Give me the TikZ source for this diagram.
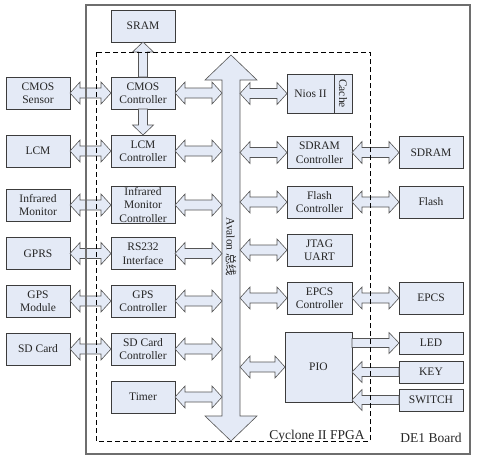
\documentclass[tikz,border=0pt]{standalone}
\usepackage{fontspec}
\setmainfont{Liberation Serif}
\newfontfamily\cjk{Noto Sans CJK SC}
\usetikzlibrary{positioning,calc}

\definecolor{boxfill}{RGB}{228,234,246}
\definecolor{boxline}{RGB}{60,60,60}
\definecolor{arrline}{RGB}{85,85,85}
\definecolor{boardline}{RGB}{110,110,110}

% horizontal hollow double arrow between two anchors
\newcommand{\dblarrow}[2]{%
  \draw[fat] let \p1=(#1), \p2=(#2), \n1={sign(round((\x2-\x1)/10))} in
    (\x1,\y1) -- ({\x1+\n1*10pt},{\y1+11pt}) -- ({\x1+\n1*10pt},{\y1+5pt})
    -- ({\x2-\n1*10pt},{\y1+5pt}) -- ({\x2-\n1*10pt},{\y1+11pt}) -- (\x2,\y1)
    -- ({\x2-\n1*10pt},{\y1-11pt}) -- ({\x2-\n1*10pt},{\y1-5pt})
    -- ({\x1+\n1*10pt},{\y1-5pt}) -- ({\x1+\n1*10pt},{\y1-11pt}) -- cycle;}
% hollow single arrow, head at the second anchor
\newcommand{\onearrow}[2]{%
  \draw[fat] let \p1=(#1), \p2=(#2), \n1={sign(round((\x2-\x1)/10))}, \n2={sign(round((\y2-\y1)/10))} in
    ({\x1-\n2*4.5pt},{\y1+\n1*4.5pt})
    -- ({\x2-\n1*10pt-\n2*4.5pt},{\y2-\n2*10pt+\n1*4.5pt})
    -- ({\x2-\n1*10pt-\n2*10.5pt},{\y2-\n2*10pt+\n1*10.5pt})
    -- (\x2,\y2)
    -- ({\x2-\n1*10pt+\n2*10.5pt},{\y2-\n2*10pt-\n1*10.5pt})
    -- ({\x2-\n1*10pt+\n2*4.5pt},{\y2-\n2*10pt-\n1*4.5pt})
    -- ({\x1+\n2*4.5pt},{\y1-\n1*4.5pt}) -- cycle;}

\begin{document}
\begin{tikzpicture}[
  x=1pt,y=-1pt,
  box/.style={draw=boxline,fill=boxfill,line width=0.7pt,outer sep=0pt,align=center,minimum width=64pt,minimum height=32pt,inner sep=1pt,font=\fontsize{11.5}{13.5}\selectfont,text=black!85},
  fat/.style={draw=arrline,fill=boxfill,line width=0.6pt,line join=miter},
  node distance=41pt
]
\useasboundingbox (0,0) rectangle (477,461);

% left side
\node[box] (sram) at (143,26) {SRAM};
\node[box] (cmoss) at (38,93) {CMOS\\Sensor};
\node[box,right=of cmoss] (cmosc) {CMOS\\Controller};
\node[box] (lcm) at (38,151) {LCM};
\node[box,right=of lcm] (lcmc) {LCM\\Controller};
\node[box] (ir) at (38,205) {Infrared\\Monitor};
\node[box,right=of ir] (irc) {Infrared\\Monitor\\Controller};
\node[box] (gprs) at (38,253.5) {GPRS};
\node[box,right=of gprs] (rs232) {RS232\\Interface};
\node[box] (gps) at (38,301) {GPS\\Module};
\node[box,right=of gps] (gpsc) {GPS\\Controller};
\node[box] (sd) at (38,349) {SD Card};
\node[box,right=of sd] (sdc) {SD Card\\Controller};
\node[box] (timer) at (143,397) {Timer};

% right side
\node[box,minimum width=47pt,minimum height=39pt] (nios) at (310.5,93.5) {Nios II};
\node[box,minimum width=39pt,minimum height=18pt,rotate=-90] (cache) at (343,93.5) {Cache};
\node[box,minimum width=65pt] (sdramc) at (319.5,152.5) {SDRAM\\Controller};
\node[box,right=47pt of sdramc] (sdram) {SDRAM};
\node[box,minimum width=65pt] (flashc) at (319.5,202) {Flash\\Controller};
\node[box,right=47pt of flashc] (flash) {Flash};
\node[box,minimum width=65pt] (jtag) at (319.5,250) {JTAG\\UART};
\node[box,minimum width=65pt] (epcsc) at (319.5,298) {EPCS\\Controller};
\node[box,right=47pt of epcsc] (epcs) {EPCS};
\node[box,minimum width=67pt,minimum height=70pt] (pio) at (318.5,367) {PIO};
\node[box,minimum height=22pt] (led) at (431,343) {LED};
\node[box,minimum height=22pt] (key) at (431,372) {KEY};
\node[box,minimum height=22pt] (switch) at (431,400) {SWITCH};

% Avalon bus
\coordinate (bustop) at (231,55);
\coordinate (busbot) at (231,441);
\coordinate (busL) at (222,0);
\coordinate (busR) at (240,0);
\draw[fat] (bustop) -- (257,80) -- (240,80) -- (240,416) -- (257,416) -- (busbot)
  -- (205,416) -- (222,416) -- (222,80) -- (205,80) -- cycle;
\node[rotate=-90,font=\fontsize{11.5}{13}\selectfont,text=black!85] (buslbl) at (231,247) {Avalon {\cjk 总线}};

\onearrow{cmosc.north}{sram.south}
\onearrow{cmosc.south}{lcmc.north}
\dblarrow{cmoss.east}{cmosc.west}
\dblarrow{lcm.east}{lcmc.west}
\dblarrow{ir.east}{irc.west}
\dblarrow{gprs.east}{rs232.west}
\dblarrow{gps.east}{gpsc.west}
\dblarrow{sd.east}{sdc.west}
\dblarrow{cmosc.east}{cmosc.east -| busL}
\dblarrow{lcmc.east}{lcmc.east -| busL}
\dblarrow{irc.east}{irc.east -| busL}
\dblarrow{rs232.east}{rs232.east -| busL}
\dblarrow{gpsc.east}{gpsc.east -| busL}
\dblarrow{sdc.east}{sdc.east -| busL}
\dblarrow{timer.east}{timer.east -| busL}
\dblarrow{busR |- nios.west}{nios.west}
\dblarrow{busR |- sdramc.west}{sdramc.west}
\dblarrow{busR |- flashc.west}{flashc.west}
\dblarrow{busR |- jtag.west}{jtag.west}
\dblarrow{busR |- epcsc.west}{epcsc.west}
\dblarrow{busR |- pio.west}{pio.west}
\dblarrow{sdramc.east}{sdram.west}
\dblarrow{flashc.east}{flash.west}
\dblarrow{epcsc.east}{epcs.west}
\onearrow{pio.east |- led.west}{led.west}
\onearrow{key.west}{key.west -| pio.east}
\onearrow{switch.west}{switch.west -| pio.east}

% board and FPGA borders
\draw[boardline,line width=1.2pt] (86,5) rectangle (470,454);
\draw[dash pattern=on 5pt off 3pt,line width=0.8pt] (96,52) rectangle (370,441);
\node[anchor=base,font=\fontsize{13.5}{15}\selectfont,text=black!85] (fpgalbl) at (317,439) {Cyclone II FPGA};
\node[anchor=base,font=\fontsize{13.5}{15}\selectfont,text=black!85] (boardlbl) at (431,442) {DE1 Board};
\end{tikzpicture}
\end{document}
